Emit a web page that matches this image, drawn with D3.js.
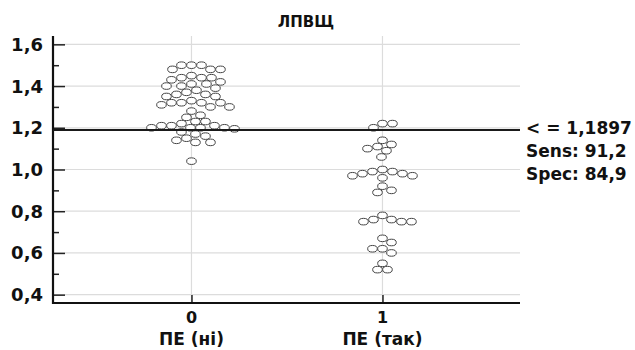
<!DOCTYPE html>
<html lang="uk">
<head>
<meta charset="UTF-8">
<title>ЛПВЩ</title>
<script src="https://cdnjs.cloudflare.com/ajax/libs/d3/7.8.5/d3.min.js"></script>
<style>
    body { margin: 0; padding: 0; background: #fff; }
    svg text { font-family: "DejaVu Sans", sans-serif; font-weight: bold; fill: #111; }
</style>
</head>
<body>
<div id="chart"></div>
<script>
    // Data
    const groups = [0, 1];
    const groupLabels = ["ПЕ (ні)", "ПЕ (так)"];
    const values0 = [
        1.50, 1.50, 1.50, 1.48, 1.48, 1.48,
        1.45, 1.44, 1.44, 1.44, 1.43,
        1.42, 1.41, 1.41, 1.40, 1.40, 1.39,
        1.38, 1.37, 1.36, 1.36, 1.35, 1.35,
        1.33, 1.32, 1.32, 1.32, 1.31, 1.32,
        1.30, 1.30, 1.28, 1.26, 1.25,
        1.23, 1.23, 1.22,
        1.21, 1.21, 1.21, 1.20, 1.20, 1.20, 1.20, 1.195,
        1.18, 1.17, 1.16, 1.15, 1.14, 1.13, 1.13, 1.04
    ];
    const values1 = [
        1.22, 1.22, 1.20,
        1.14, 1.12, 1.11, 1.10, 1.09, 1.06,
        1.00, 0.99, 0.99, 0.98, 0.98, 0.97, 0.97, 0.96,
        0.92, 0.90, 0.89,
        0.78, 0.76, 0.76, 0.75, 0.75, 0.75,
        0.67, 0.65, 0.62, 0.62, 0.60,
        0.55, 0.52, 0.52
    ];
    const yTicks = [0.4, 0.6, 0.8, 1.0, 1.2, 1.4, 1.6];
    const yMinor = [0.5, 0.7, 0.9, 1.1, 1.3, 1.5];
    const threshold = 1.1897;
    const notes = ["< = 1,1897", "Sens: 91,2", "Spec: 84,9"];
    const title = "ЛПВЩ";

    const width = 635, height = 350;
    const mLeft = 53, mRight = 520, mTop = 36, mBottom = 303;

    const svg = d3.select("#chart").append("svg")
        .attr("width", width).attr("height", height);

    const x = d3.scaleLinear().domain([-0.725, 1.72]).range([mLeft, mRight]);
    const y = d3.scaleLinear().domain([0.36, 1.64]).range([mBottom, mTop]);
    const fmt = d => d3.format(".1f")(d).replace(".", ",");

    // gridlines
    svg.append("g").selectAll("line").data(yTicks).join("line")
        .attr("x1", mLeft).attr("x2", mRight)
        .attr("y1", d => y(d)).attr("y2", d => y(d))
        .attr("stroke", "#dcdcdc").attr("stroke-width", 1.2);
    svg.append("g").selectAll("line").data(groups).join("line")
        .attr("x1", d => x(d)).attr("x2", d => x(d))
        .attr("y1", mTop).attr("y2", mBottom)
        .attr("stroke", "#dcdcdc").attr("stroke-width", 1.2);

    // y axis
    const yAxis = svg.append("g").attr("transform", `translate(${mLeft},0)`)
        .call(d3.axisRight(y).tickValues(yTicks).tickSize(12).tickFormat(""));
    yAxis.select(".domain").remove();
    yAxis.selectAll("line").attr("stroke", "#222").attr("stroke-width", 1.5);
    svg.append("g").attr("transform", `translate(${mLeft},0)`)
        .call(d3.axisRight(y).tickValues(yMinor).tickSize(6).tickFormat(""))
        .call(g => g.select(".domain").remove())
        .selectAll("line").attr("stroke", "#222").attr("stroke-width", 1.5);
    svg.append("g").selectAll("text").data(yTicks).join("text")
        .attr("x", 43).attr("y", d => y(d) + 6.5)
        .attr("text-anchor", "end").attr("font-size", 18)
        .text(fmt);

    // x axis
    const xAxis = svg.append("g").attr("transform", `translate(0,${mBottom})`)
        .call(d3.axisTop(x).tickValues(groups).tickSize(8).tickFormat(""));
    xAxis.select(".domain").remove();
    xAxis.selectAll("line").attr("stroke", "#222").attr("stroke-width", 1.5);
    svg.append("g").selectAll("text").data(groups).join("text")
        .attr("x", d => x(d)).attr("y", 323)
        .attr("text-anchor", "middle").attr("font-size", 16)
        .text(d => d);
    svg.append("g").selectAll("text").data(groups).join("text")
        .attr("x", d => x(d)).attr("y", 345)
        .attr("text-anchor", "middle").attr("font-size", 17)
        .text((d, i) => groupLabels[i]);

    // axis lines
    svg.append("line").attr("x1", mLeft).attr("x2", mLeft).attr("y1", mTop).attr("y2", mBottom + 1)
        .attr("stroke", "#111").attr("stroke-width", 2.2);
    svg.append("line").attr("x1", mLeft - 1).attr("x2", mRight).attr("y1", mBottom).attr("y2", mBottom)
        .attr("stroke", "#111").attr("stroke-width", 2.2);

    // dots: simple beeswarm with elliptical markers
    const W = 10, H = 7;
    function swarm(values, cx) {
        const pts = values.map(v => ({ v, y: y(v) })).sort((a, b) => a.y - b.y);
        const placed = [];
        pts.forEach(p => {
            for (let k = 0; k < 400; k++) {
                const off = (k % 2 ? 1 : -1) * Math.ceil(k / 2);
                const px = cx + off;
                if (placed.every(q => ((px - q.x) / W) ** 2 + ((p.y - q.y) / H) ** 2 >= 1)) {
                    p.x = px;
                    break;
                }
            }
            placed.push(p);
        });
        return placed;
    }
    [values0, values1].forEach((vals, i) => {
        svg.append("g").selectAll("ellipse").data(swarm(vals, x(groups[i]))).join("ellipse")
            .attr("cx", d => d.x).attr("cy", d => d.y)
            .attr("rx", 4.8).attr("ry", 3.3)
            .attr("fill", "#fff").attr("stroke", "#444").attr("stroke-width", 1);
    });

    // cut-off line
    svg.append("line").attr("x1", mLeft).attr("x2", mRight)
        .attr("y1", y(threshold)).attr("y2", y(threshold))
        .attr("stroke", "#1a1a1a").attr("stroke-width", 2);

    svg.append("g").selectAll("text").data(notes).join("text")
        .attr("x", 526).attr("y", (d, i) => 134 + i * 23)
        .attr("font-size", 17)
        .text(d => d);

    svg.append("text").attr("x", 306).attr("y", 27)
        .attr("text-anchor", "middle").attr("font-size", 15)
        .text(title);
</script>
</body>
</html>
